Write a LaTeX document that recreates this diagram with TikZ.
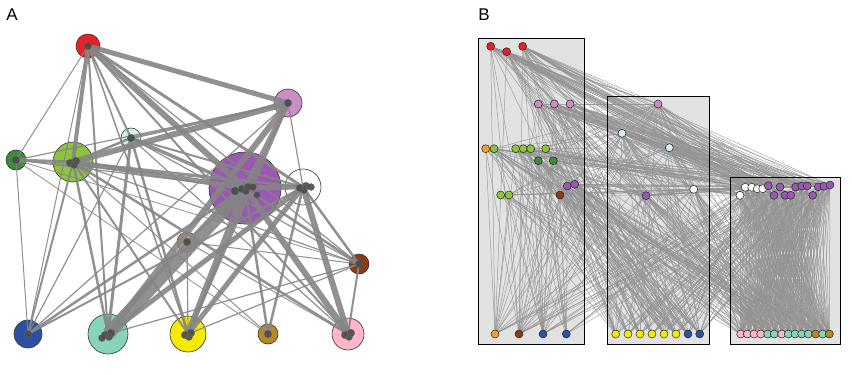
\documentclass[tikz,border=0pt]{standalone}
\usepackage{fontspec}
\setmainfont{Liberation Sans}
\usepackage{tikz}
\usetikzlibrary{positioning}
\definecolor{NodeRed}{HTML}{E8202A}
\definecolor{NodeOrchid}{HTML}{CC8CC4}
\definecolor{NodeLCyan}{HTML}{D4EEF2}
\definecolor{NodeDGreen}{HTML}{3C8C3C}
\definecolor{NodeYGreen}{HTML}{8CC43C}
\definecolor{NodePurple}{HTML}{9A58B4}
\definecolor{NodeTan}{HTML}{D2A070}
\definecolor{NodeBrown}{HTML}{8B3A1A}
\definecolor{NodeBlue}{HTML}{2E50A4}
\definecolor{NodeAqua}{HTML}{88D4B8}
\definecolor{NodeYellow}{HTML}{F5EB00}
\definecolor{NodeGold}{HTML}{B88828}
\definecolor{NodePink}{HTML}{FFB6C8}
\definecolor{NodeOrange}{HTML}{F5A020}
\definecolor{EdgeGray}{HTML}{858585}
\definecolor{EdgeLight}{HTML}{939393}
\definecolor{BlobGray}{HTML}{4A4A4A}
\definecolor{BoxGray}{HTML}{E2E2E2}

\tikzset{
  anode/.style={circle,draw=black!80,line width=0.6pt,inner sep=0pt},
  aedge/.style={draw=EdgeGray,opacity=0.9},
  blob/.style={fill=BlobGray,draw=black!60,line width=0.3pt,opacity=0.9},
  bnode/.style={circle,draw=black!85,line width=0.5pt,inner sep=0pt,minimum size=8pt},
  bedge/.style={draw=EdgeLight,line width=0.5pt,opacity=0.85},
  panelbox/.style={line width=0.8pt},
  panellabel/.style={font=\fontsize{17}{20}\selectfont}
}

% random links between two groups of coordinates
\newcommand{\randlinks}[5]{%
  \foreach \ia in {#2}{\foreach \ib in {#4}{%
    \pgfmathtruncatemacro{\hit}{rnd<#5}%
    \ifnum\hit=1 \draw[bedge] (#1\ia) -- (#3\ib);\fi}}}

\def\bupper{1/490.7/46.3/NodeRed, 2/506.7/51.7/NodeRed, 3/522.7/46.3/NodeRed,
  4/538.3/104/NodeOrchid, 5/554.3/104/NodeOrchid, 6/570/104/NodeOrchid,
  7/485.7/148.7/NodeOrange, 8/494/148.7/NodeYGreen, 9/515.7/148.7/NodeYGreen,
  10/523.3/148.7/NodeYGreen, 11/530.7/148.7/NodeYGreen, 12/545.7/148.7/NodeYGreen,
  13/538.3/160.7/NodeDGreen, 14/553.3/160.7/NodeDGreen, 15/567.3/186/NodePurple,
  16/574.7/184.3/NodePurple, 17/560/195/NodeBrown, 18/500.7/195/NodeYGreen,
  19/509/195/NodeYGreen, 20/658/104/NodeOrchid, 21/622/133.3/NodeLCyan,
  22/669.3/147.7/NodeLCyan, 23/646/195.7/NodePurple, 24/693.7/189.3/white,
  25/745.3/187.3/white, 26/751.7/187.3/white, 27/757.3/188.7/white,
  28/762.7/188.7/white, 29/740/195.3/white, 30/768.3/185.7/NodePurple,
  31/780/187/NodePurple, 32/795.7/187/NodePurple, 33/801.7/186/NodePurple,
  34/807.3/186/NodePurple, 35/818.3/186.7/NodePurple, 36/824/186.3/NodePurple,
  37/830/185/NodePurple, 38/774/195.3/NodePurple, 39/785/195.3/NodePurple,
  40/790.7/195.3/NodePurple, 41/812.7/195.3/NodePurple}
\def\blower{1/495/NodeOrange, 2/519/NodeBrown, 3/543/NodeBlue, 4/566.3/NodeBlue,
  5/615.7/NodeYellow, 6/628/NodeYellow, 7/640/NodeYellow, 8/652/NodeYellow,
  9/664/NodeYellow, 10/676/NodeYellow, 11/688/NodeBlue, 12/699.7/NodeBlue,
  13/740.7/NodePink, 14/747.3/NodePink, 15/754/NodePink, 16/760.7/NodePink,
  17/767.7/NodeAqua, 18/774.3/NodeAqua, 19/781.7/NodePink, 20/788.3/NodeAqua,
  21/795/NodeAqua, 22/801.7/NodeAqua, 23/808.3/NodeAqua, 24/815.7/NodeGold,
  25/822.7/NodeAqua, 26/829.3/NodeGold}

\begin{document}
\begin{tikzpicture}[x=1pt,y=-1pt]
\useasboundingbox (0,0) rectangle (852,375);

% panel A
\node[panellabel] (labA) at (12,15) {A};
\node[anode,fill=NodeRed,minimum size=24pt] (red) at (88,46) {};
\node[anode,fill=NodeOrchid,minimum size=28pt] (orc) at (288,103) {};
\node[anode,fill=NodeLCyan,minimum size=20pt] (lcy) at (131,138) {};
\node[anode,fill=NodeDGreen,minimum size=20pt] (dgr) at (16,160) {};
\node[anode,fill=NodeYGreen,minimum size=40pt] (ygr) at (73,162) {};
\node[anode,fill=NodePurple,minimum size=72pt] (pur) at (245,188) {};
\node[anode,fill=white,minimum size=36pt] (wht) at (303,187) {};
\node[anode,fill=NodeTan,minimum size=20pt] (tan) at (187,242) {};
\node[anode,fill=NodeBrown,minimum size=20pt] (brn) at (359,264) {};
\node[anode,fill=NodeBlue,minimum size=28pt] (blu) at (28,334) {};
\node[anode,fill=NodeAqua,minimum size=40pt] (aqu) at (108,334) {};
\node[anode,fill=NodeYellow,minimum size=36pt] (yel) at (188,334) {};
\node[anode,fill=NodeGold,minimum size=20pt] (gld) at (268,334) {};
\node[anode,fill=NodePink,minimum size=32pt] (pnk) at (348,334) {};

\foreach \a/\b/\w in {red/orc/5, red/dgr/1, red/ygr/4, red/lcy/2, red/pur/6,
    red/wht/3, red/blu/1, red/aqu/2, red/yel/1.5, red/brn/1.2, red/pnk/2,
    orc/ygr/6, orc/dgr/1.2, orc/lcy/2.5, orc/pur/5, orc/aqu/6, orc/blu/1.2, orc/yel/3.5, orc/wht/1.2,
    lcy/ygr/2.5, lcy/pur/3.5, lcy/aqu/3, lcy/yel/2.5, lcy/wht/2, lcy/brn/1.2, lcy/blu/1.2, lcy/pnk/1.2,
    ygr/dgr/3, ygr/pur/5, ygr/wht/2.5, ygr/brn/1.2, ygr/pnk/2.5, ygr/blu/2, ygr/aqu/2.5,
    ygr/yel/2, ygr/gld/1, dgr/blu/1, dgr/pur/1.2, dgr/wht/1, dgr/gld/0.8, dgr/brn/0.8,
    pur/aqu/13, pur/yel/6, pur/pnk/6, pur/wht/5, pur/brn/2.5, pur/blu/2.5, pur/gld/2.5, pur/tan/2,
    wht/pnk/6, wht/yel/5, wht/aqu/5, wht/gld/2.5, wht/brn/2.5, wht/blu/2,
    tan/aqu/1.2, tan/yel/1.2, tan/brn/1, tan/pnk/1,
    brn/pnk/2, brn/aqu/1.2, brn/yel/1.2}
  \draw[aedge,line width=\w pt] (\a.center) -- (\b.center);

\foreach \n in {red,orc,lcy,dgr,tan,brn,blu,gld}
  \fill[blob] (\n.center) circle (3.8);
\foreach \n in {ygr,wht,aqu,yel,pnk,pur}
  \fill[blob] (\n.center) ++(-3,1) circle (3.8) ++(6,-2) circle (3.8) ++(-2,4) circle (3.5);
\fill[blob] (pur.center) ++(-10,3) circle (4) ++(18,-4) circle (3.5) ++(4,8) circle (3.2);
\fill[blob] (aqu.center) ++(-6,4) circle (3.5);
\fill[blob] (wht.center) ++(8,0) circle (3.5);

% panel B
\node[panellabel] (labB) at (484,15) {B};
\fill[BoxGray] (478,38) rectangle (584,344);
\fill[BoxGray] (607,96) rectangle (709,344);
\fill[BoxGray] (730,177) rectangle (840,344);

\foreach \n/\x/\y/\c in \bupper
  \coordinate (u\n) at (\x,\y);
\foreach \n/\x/\c in \blower
  \coordinate (l\n) at (\x,334);

\pgfmathsetseed{42}
\randlinks{u}{1,...,19}{l}{1,...,12}{0.5}
\randlinks{u}{1,...,19}{l}{13,...,26}{0.2}
\randlinks{u}{1,...,6}{u}{25,...,41}{0.75}
\randlinks{u}{1,...,6}{u}{20,...,24}{0.6}
\randlinks{u}{7,...,19}{u}{20,...,41}{0.2}
\randlinks{u}{20,...,24}{l}{1,...,26}{0.6}
\randlinks{u}{20,...,24}{u}{25,...,41}{0.55}
\randlinks{u}{25,...,41}{l}{13,...,26}{0.95}
\randlinks{u}{25,...,41}{l}{1,...,12}{0.3}
\draw[bedge,line width=1.2pt] (u16) -- (u23) -- (u24) -- (u29);

\draw[panelbox] (478,38) rectangle (584,344);
\draw[panelbox] (607,96) rectangle (709,344);
\draw[panelbox] (730,177) rectangle (840,344);

\foreach \n/\x/\y/\c in \bupper
  \node[bnode,fill=\c] (un\n) at (u\n) {};
\foreach \n/\x/\c in \blower
  \node[bnode,fill=\c] (ln\n) at (l\n) {};
\end{tikzpicture}
\end{document}
